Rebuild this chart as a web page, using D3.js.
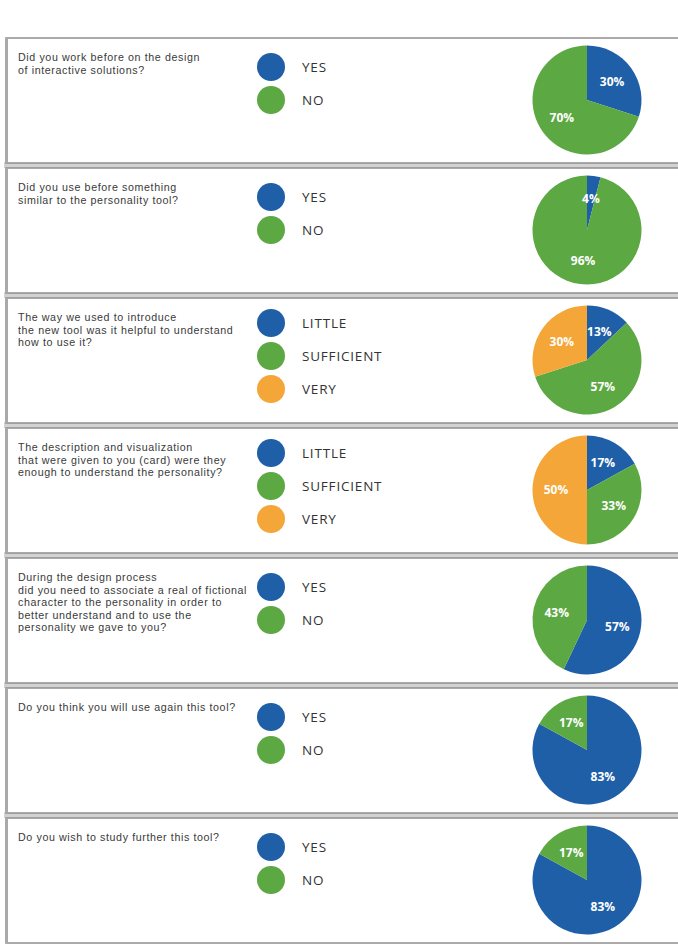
<!DOCTYPE html>
<html>
<head>
<meta charset="utf-8">
<script src="https://cdn.jsdelivr.net/npm/d3@7"></script>
<style>
  html, body { margin: 0; padding: 0; background: #ffffff; }
  svg { display: block; }
</style>
</head>
<body>
<svg id="chart" width="678" height="945"></svg>
<script>
// Survey questions (one line of text per array entry)
const questions = [
  ["Did you work before on the design", "of interactive solutions?"],
  ["Did you use before something", "similar to the personality tool?"],
  ["The way we used to introduce", "the new tool was it helpful to understand", "how to use it?"],
  ["The description and visualization", "that were given to you (card) were they", "enough to understand the personality?"],
  ["During the design process", "did you need to associate a real of fictional", "character to the personality in order to", "better understand and to use the", "personality we gave to you?"],
  ["Do you think you will use again this tool?"],
  ["Do you wish to study further this tool?"]
];

// Answer categories for each question
const answers = [
  ["YES", "NO"],
  ["YES", "NO"],
  ["LITTLE", "SUFFICIENT", "VERY"],
  ["LITTLE", "SUFFICIENT", "VERY"],
  ["YES", "NO"],
  ["YES", "NO"],
  ["YES", "NO"]
];

// Share of respondents (%) per answer
const shares = [
  [30, 70],
  [4, 96],
  [13, 57, 30],
  [17, 33, 50],
  [57, 43],
  [83, 17],
  [83, 17]
];

const palette = ["#1f5fa8", "#5ca843", "#f4a638"];

const W = 678, H = 945;
const svg = d3.select("#chart");

const panelTop = d3.scaleLinear().domain([0, 1]).range([38, 168]); // 130px step
const panelH = 125;
const panelX = 6;
const colour = d3.scaleOrdinal().domain([0, 1, 2]).range(palette);

const pie = d3.pie().sort(null).value(d => d);
const R = 54.5;
const arc = d3.arc().innerRadius(0).outerRadius(R);
const labelArc = d3.arc().innerRadius(R * 0.57).outerRadius(R * 0.57);

// grey gutters between cards
questions.forEach((q, i) => {
  if (i === 0) return;
  const top = panelTop(i);
  svg.append("rect")
    .attr("x", panelX - 2).attr("y", top - 6)
    .attr("width", W).attr("height", 6)
    .attr("fill", "#d2d2d2");
});

questions.forEach((q, i) => {
  const top = panelTop(i);
  const g = svg.append("g").attr("transform", `translate(0,${top})`);

  // card
  g.append("rect")
    .attr("x", panelX).attr("y", 0)
    .attr("width", W).attr("height", panelH)
    .attr("fill", "#ffffff")
    .attr("stroke", "#8e8e8e")
    .attr("stroke-width", 1.5);
  g.append("rect")
    .attr("x", panelX - 1).attr("y", 0)
    .attr("width", 3).attr("height", panelH)
    .attr("fill", "#a9a9a9");

  // question text, one text element per line
  g.selectAll("text.q").data(q).enter().append("text")
    .attr("class", "q")
    .attr("x", 18)
    .attr("y", (line, k) => 23 + k * 12.6)
    .attr("font-family", "'Liberation Sans', Arial, sans-serif")
    .attr("font-size", 10.7)
    .attr("letter-spacing", 0.6)
    .attr("fill", "#3a3a3a")
    .text(line => line);

  // legend
  const n = answers[i].length;
  const y0 = n === 3 ? 25 : 29;
  const lg = g.selectAll("g.leg").data(answers[i]).enter().append("g")
    .attr("class", "leg")
    .attr("transform", (d, k) => `translate(271,${y0 + k * 33})`);
  lg.append("circle").attr("r", 14).attr("fill", (d, k) => colour(k));
  lg.append("text")
    .attr("x", 31).attr("y", 5)
    .attr("font-family", "'Open Sans', sans-serif")
    .attr("font-size", 13.5)
    .attr("letter-spacing", 0.8)
    .attr("fill", "#333")
    .text(d => d);

  // pie
  const arcs = pie(shares[i]);
  const pg = g.append("g").attr("transform", `translate(587,62)`);
  pg.selectAll("path").data(arcs).enter().append("path")
    .attr("d", arc)
    .attr("fill", (d, k) => colour(k));
  pg.selectAll("text").data(arcs).enter().append("text")
    .attr("transform", d => `translate(${labelArc.centroid(d)})`)
    .attr("text-anchor", "middle")
    .attr("dy", "0.35em")
    .attr("font-family", "'Open Sans', sans-serif")
    .attr("font-size", 12)
    .attr("font-weight", 700)
    .attr("fill", "#ffffff")
    .text(d => d.data + "%");
});
</script>
</body>
</html>
